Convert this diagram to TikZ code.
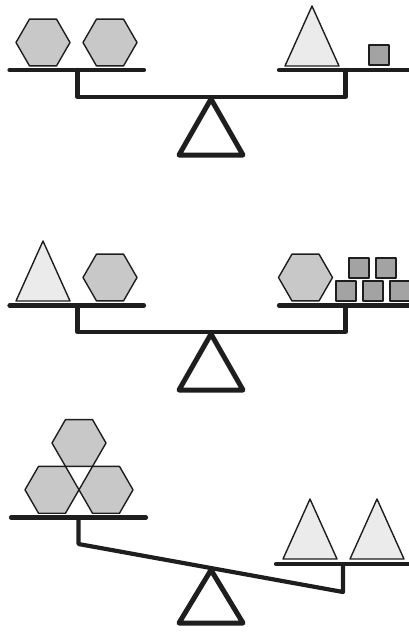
\documentclass[tikz,border=0pt]{standalone}
\usepackage{tikz}
\definecolor{hexgray}{HTML}{C8C8C8}
\definecolor{conegray}{HTML}{EBEBEB}
\definecolor{blockgray}{HTML}{A3A3A3}
\definecolor{bardark}{HTML}{1E1E1E}

\tikzset{
  bar/.style={draw=bardark, line width=4.2pt, line cap=round, line join=round},
  pivot/.style={draw=bardark, line width=5pt, line join=round},
  piece/.style={draw=bardark, line width=1.4pt, line join=round},
  hexpiece/.pic={\path[piece, fill=hexgray] (-27,0) -- (-13.5,-23.4) -- (13.5,-23.4)
      -- (27,0) -- (13.5,23.4) -- (-13.5,23.4) -- cycle;},
  conepiece/.pic={\path[piece, fill=conegray] (-27,0) -- (0,-60) -- (27,0) -- cycle;},
  blockpiece/.pic={\path[piece, line width=2pt, fill=blockgray] (-10,-10) rectangle (10,10);}
}

\begin{document}
\begin{tikzpicture}[x=1pt, y=-1pt]
  \useasboundingbox (0,0) rectangle (409,633);
  \clip (0,0) rectangle (409,633);

  % top scale: two hexagons against a cone and a block
  \draw[bar] (9.5,70) -- (144,70);
  \draw[bar] (279,70) -- (415,70);
  \draw[bar] (77.5,70) -- (77.5,97) -- (345.5,97) -- (345.5,70);
  \draw[pivot] (211,99) -- (179,155) -- (243,155) -- cycle;
  \pic at (43,42.5) {hexpiece};
  \pic at (110,42.5) {hexpiece};
  \pic at (312,66) {conepiece};
  \pic at (379,55) {blockpiece};

  % middle scale: cone and hexagon against hexagon and five blocks
  \draw[bar] (9.5,305.5) -- (144,305.5);
  \draw[bar] (279,305.5) -- (415,305.5);
  \draw[bar] (77.5,305.5) -- (77.5,332) -- (345.5,332) -- (345.5,305.5);
  \draw[pivot] (211,334) -- (179,390) -- (243,390) -- cycle;
  \pic at (43,301) {conepiece};
  \pic at (110,277.5) {hexpiece};
  \pic at (305.5,277.5) {hexpiece};
  \foreach \bx in {345.5,372.5,399.5}
    \pic at (\bx,291) {blockpiece};
  \foreach \bx in {359,386}
    \pic at (\bx,268) {blockpiece};

  % bottom scale: three hexagons outweigh two cones
  \draw[bar] (11,517.5) -- (146,517.5);
  \draw[bar] (276,564) -- (415,564);
  \draw[bar] (78.5,517.5) -- (78.5,544) -- (343,592) -- (343,564);
  \draw[pivot] (211,570) -- (179,623) -- (243,623) -- cycle;
  \pic at (79,443) {hexpiece};
  \pic at (52,489.8) {hexpiece};
  \pic at (106,489.8) {hexpiece};
  \pic at (310,559) {conepiece};
  \pic at (377,559) {conepiece};
\end{tikzpicture}
\end{document}
